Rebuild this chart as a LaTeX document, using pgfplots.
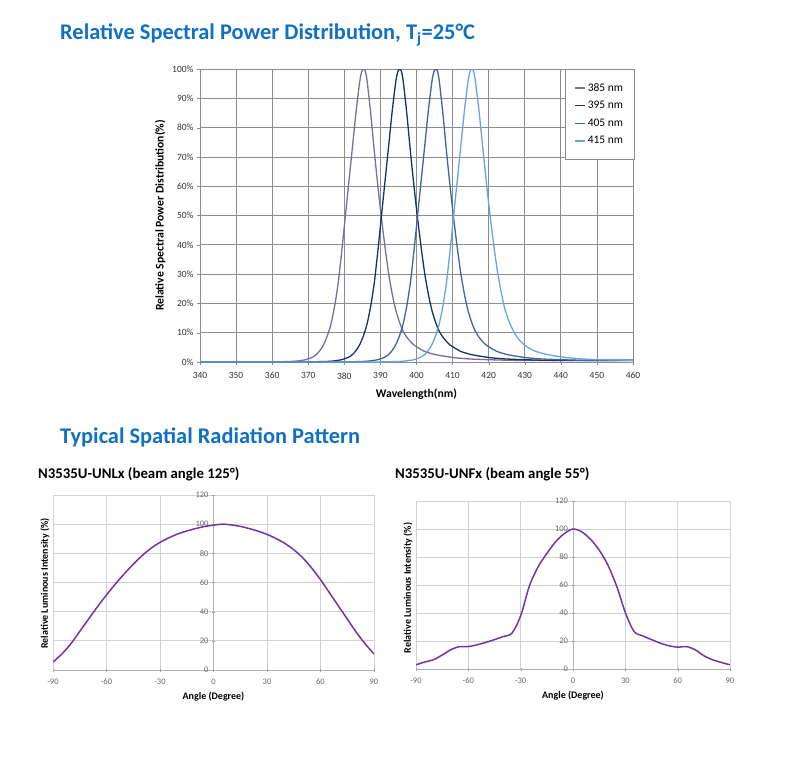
\documentclass[border=0pt]{standalone}
\usepackage{fontspec}
\setmainfont{Carlito}
\usepackage{pgfplots}
\pgfplotsset{compat=1.18}
\definecolor{cA}{HTML}{7D6C9E}
\definecolor{cB}{HTML}{1A2F6B}
\definecolor{cC}{HTML}{40659A}
\definecolor{cD}{HTML}{6AA3E0}
\definecolor{ttl}{HTML}{1070C4}
\definecolor{pur}{HTML}{7335A5}
\begin{document}
\begin{tikzpicture}
\path[use as bounding box] (0pt,0pt) rectangle (795pt,-757pt);
\node[anchor=base west, text=ttl, font=\bfseries\fontsize{22.4}{24}\selectfont, inner sep=0pt] at (60pt,-40pt) {Relative Spectral Power Distribution, T\textsubscript{j}=25°C};
\node[anchor=base west, text=ttl, font=\bfseries\fontsize{22.4}{24}\selectfont, inner sep=0pt] at (60pt,-443pt) {Typical Spatial Radiation Pattern};
\node[anchor=base west, font=\bfseries\fontsize{14.8}{16}\selectfont, inner sep=0pt] at (38pt,-478pt) {N3535U-UNLx (beam angle 125°)};
\node[anchor=base west, font=\bfseries\fontsize{14.8}{16}\selectfont, inner sep=0pt] at (395pt,-478pt) {N3535U-UNFx (beam angle 55°)};

\begin{axis}[
 at={(200pt,-362pt)}, anchor=south west,
 scale only axis, width=433pt, height=293pt,
 xmin=340, xmax=460, ymin=0, ymax=100,
 xtick={340,350,...,460}, ytick={0,10,...,100},
 grid=major, grid style={black!45, line width=0.8pt},
 axis line style={black!45, line width=0.8pt},
 tick style={black!45},
 tick align=outside, tick pos=left, major tick length=3pt,
 /pgf/number format/assume math mode=true,
 ticklabel style={font=\fontsize{9.5}{10}\selectfont, text=black!80},
 xticklabel style={yshift=-4pt},
 yticklabel={\pgfmathprintnumber{\tick}\%},
 xlabel={Wavelength(nm)},
 ylabel={Relative Spectral Power Distribution(\%)},
 label style={font=\bfseries\fontsize{11.7}{13}\selectfont},
 xlabel style={yshift=-3pt},
 clip=true,
 legend style={at={(1.003,1)}, anchor=north east, draw=black!45, fill=white,
   font=\fontsize{11.5}{13}\selectfont, row sep=4.7pt, inner xsep=9pt, inner ysep=12pt},
 legend cell align=left,
 legend image code/.code={\draw[#1, line width=1.3pt] (0pt,0pt) -- (10pt,0pt);},
 every axis plot/.append style={line width=1.3pt, smooth, tension=0.4},
]
\addplot[cA] coordinates {(340,0) (355.3,0.02) (360.3,0.05) (365.3,0.2) (367.3,0.4) (369.3,0.8) (371.3,1.7) (372.3,2.6) (373.3,4) (374.3,6) (375.3,9) (376.3,13) (377.3,19) (378.3,27) (379.3,38) (380.3,50) (381.3,62) (382.3,74) (383.3,86) (384.3,96) (384.8,99) (385.3,100) (385.8,99.3) (386.3,96) (387.3,85) (388.3,72) (389.3,60) (390.3,49) (391.3,39) (392.3,30) (393.3,23) (394.3,17.5) (395.3,13.5) (396.3,10.5) (397.3,8.5) (398.3,7) (399.3,5.8) (400.3,5) (402.3,3.6) (405.3,2.5) (410.3,1.5) (415.3,1.0) (425.3,0.6) (435.3,0.5) (460,0.5)};
\addplot[cB] coordinates {(340,0) (365.3,0.02) (370.3,0.05) (375.3,0.2) (377.3,0.4) (379.3,0.8) (381.3,1.7) (382.3,2.6) (383.3,4) (384.3,6) (385.3,9) (386.3,13) (387.3,19) (388.3,27) (389.3,38) (390.3,50) (391.3,62) (392.3,74) (393.3,86) (394.3,96) (394.8,99) (395.3,100) (395.8,99.3) (396.3,96) (397.3,85) (398.3,72) (399.3,60) (400.3,49) (401.3,39) (402.3,30) (403.3,23) (404.3,17.5) (405.3,13.5) (406.3,10.5) (407.3,8.5) (408.3,7) (409.3,5.8) (410.3,5) (412.3,3.6) (415.3,2.5) (420.3,1.5) (425.3,1.0) (435.3,0.6) (445.3,0.5) (460,0.6)};
\addplot[cC] coordinates {(340,0) (375.3,0.02) (380.3,0.05) (385.3,0.2) (387.3,0.4) (389.3,0.8) (391.3,1.7) (392.3,2.6) (393.3,4) (394.3,6) (395.3,9) (396.3,13) (397.3,19) (398.3,27) (399.3,38) (400.3,50) (401.3,62) (402.3,74) (403.3,86) (404.3,96) (404.8,99) (405.3,100) (405.8,99.3) (406.3,96) (407.3,85) (408.3,72) (409.3,60) (410.3,49) (411.3,39) (412.3,30) (413.3,23) (414.3,17.5) (415.3,13.5) (416.3,10.5) (417.3,8.5) (418.3,7) (419.3,5.8) (420.3,5) (422.3,3.6) (425.3,2.5) (430.3,1.5) (435.3,1.0) (445.3,0.6) (455.3,0.5) (460,0.6)};
\addplot[cD] coordinates {(340,0) (385.3,0.02) (390.3,0.05) (395.3,0.2) (397.3,0.4) (399.3,0.8) (401.3,1.7) (402.3,2.6) (403.3,4) (404.3,6) (405.3,9) (406.3,13) (407.3,19) (408.3,27) (409.3,38) (410.3,50) (411.3,62) (412.3,74) (413.3,86) (414.3,96) (414.8,99) (415.3,100) (415.8,99.3) (416.3,96) (417.3,86) (418.3,74) (419.3,62) (420.3,51) (421.3,41) (422.3,32) (423.3,25) (424.3,19) (425.3,15) (426.3,12) (427.3,9.5) (428.3,7.8) (429.3,6.5) (430.3,5.5) (432.3,4) (435.3,2.8) (440.3,1.7) (445.3,1.1) (450.3,0.8) (460,0.6)};
\legend{385 nm, 395 nm, 405 nm, 415 nm}
\end{axis}

\pgfplotsset{radstyle/.style={
 scale only axis,
 xmin=-90, xmax=90, ymin=0, ymax=120,
 xtick={-90,-60,...,90}, ytick={0,20,...,120},
 axis x line=bottom, axis y line=middle,
 hide obscured x ticks=false, hide obscured y ticks=false,
 axis line style={-, black!30, line width=0.8pt},
 grid=major, grid style={black!18, line width=0.8pt},
 tick style={black!40}, major tick length=3pt,
 /pgf/number format/assume math mode=true,
 ticklabel style={font=\fontsize{8.5}{10}\selectfont, text=black!60},
 xticklabel style={yshift=-4pt},
 xlabel={Angle (Degree)}, ylabel={Relative Luminous Intensity (\%)},
 xlabel style={at={(rel axis cs:0.5,0)}, anchor=north, yshift=-19pt, font=\bfseries\fontsize{10}{12}\selectfont},
 ylabel style={at={(rel axis cs:0,0.5)}, anchor=south, rotate=90, font=\bfseries\fontsize{10}{12}\selectfont},
}}
\begin{axis}[radstyle, at={(53pt,-670pt)}, anchor=south west, width=321pt, height=175pt,
 ylabel style={xshift=-1pt}]
\addplot[pur, line width=1.5pt, no marks, smooth, tension=0.5] coordinates {(-90,5.5) (-85,11) (-80,18) (-75,26.5) (-70,35) (-65,43.5) (-60,51.5) (-55,59) (-50,66) (-45,72.5) (-40,78.5) (-35,83.5) (-30,87.5) (-25,90.7) (-20,93.3) (-15,95.3) (-10,97) (-5,98.4) (0,99.3) (5,100) (10,99.5) (15,98.5) (20,97) (25,95.2) (30,93) (35,90.2) (40,86.8) (45,82.5) (50,77) (55,70) (60,62) (65,53) (70,44) (75,35) (80,26) (85,18) (90,11)};
\end{axis}
\begin{axis}[radstyle, at={(416pt,-669pt)}, anchor=south west, width=314pt, height=168pt,
 ylabel style={xshift=-3pt}]
\addplot[pur, line width=1.5pt, no marks, smooth, tension=0.5] coordinates {(-90,3) (-85,5) (-80,6.6) (-75,10) (-70,13.8) (-65,16) (-60,16) (-55,17.3) (-50,19) (-45,21) (-40,23.2) (-35,25.6) (-30,38) (-25,59.3) (-20,73) (-15,82.5) (-10,90.8) (-5,96.7) (0,100) (5,98) (10,92.7) (15,85) (20,74.2) (25,59.3) (30,40.3) (35,26.8) (40,23.7) (45,21) (50,18.5) (55,16.6) (60,15.6) (65,16) (70,13.8) (75,9.5) (80,6.6) (85,4.7) (90,3)};
\end{axis}
\end{tikzpicture}
\end{document}
